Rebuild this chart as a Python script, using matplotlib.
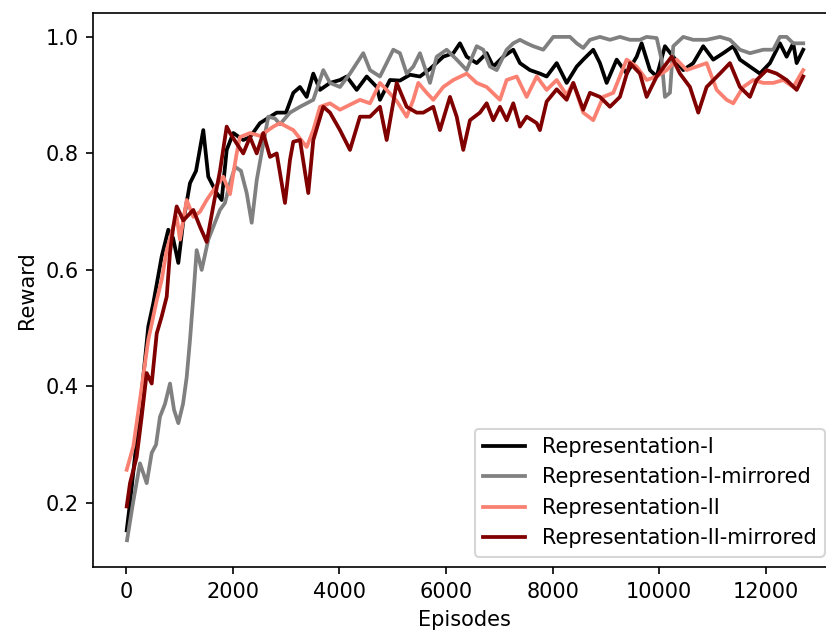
import matplotlib
matplotlib.use("Agg")
import matplotlib.pyplot as plt

# ---- data ----
ep_rep1 = [13, 75, 262, 418, 512, 669, 793, 881, 981, 1069, 1200, 1313, 1449, 1543, 1700, 1794, 1888,
           2012, 2199, 2325, 2512, 2826, 3000, 3137, 3262, 3388, 3512, 3637, 3825, 4012, 4138, 4326,
           4513, 4701, 4762, 4950, 5137, 5325, 5512, 5700, 5949, 6137, 6262, 6388, 6576, 6763, 6887,
           7074, 7262, 7387, 7575, 7762, 7888, 8076, 8263, 8451, 8574, 8762, 8887, 9013, 9201, 9388,
           9576, 9669, 9825, 9951, 10106, 10262, 10449, 10637, 10824, 11012, 11199, 11387, 11512,
           11700, 11887, 12075, 12262, 12388, 12512, 12576, 12699]
rw_rep1 = [0.153, 0.20, 0.36, 0.503, 0.543, 0.623, 0.669, 0.655, 0.612, 0.68, 0.749, 0.77, 0.840, 0.76,
           0.732, 0.72, 0.806, 0.835, 0.823, 0.828, 0.852, 0.87, 0.87, 0.904, 0.914, 0.897, 0.937,
           0.909, 0.921, 0.926, 0.932, 0.909, 0.932, 0.914, 0.892, 0.926, 0.925, 0.935, 0.932, 0.945,
           0.966, 0.972, 0.989, 0.966, 0.955, 0.972, 0.949, 0.966, 0.978, 0.955, 0.943, 0.937, 0.932,
           0.955, 0.921, 0.949, 0.961, 0.978, 0.955, 0.921, 0.961, 0.937, 0.966, 0.989, 0.943, 0.932,
           0.984, 0.966, 0.943, 0.955, 0.984, 0.961, 0.972, 0.984, 0.961, 0.949, 0.937, 0.955, 0.989,
           0.966, 0.989, 0.955, 0.978]

ep_rep1m = [19, 131, 262, 388, 482, 563, 637, 731, 825, 900, 981, 1069, 1138, 1200, 1262, 1325, 1419,
            1543, 1637, 1762, 1856, 1950, 2044, 2156, 2263, 2357, 2451, 2574, 2668, 2794, 2887, 3075,
            3262, 3512, 3699, 3825, 4012, 4200, 4449, 4575, 4762, 5012, 5137, 5263, 5387, 5512, 5700,
            5826, 6013, 6201, 6388, 6576, 6699, 6825, 6951, 7138, 7262, 7387, 7513, 7637, 7824, 8012,
            8325, 8451, 8574, 8700, 8887, 9075, 9262, 9450, 9637, 9763, 9951, 10044, 10106, 10200,
            10262, 10449, 10637, 10888, 11137, 11325, 11512, 11700, 11949, 12137, 12262, 12388, 12512,
            12699]
rw_rep1m = [0.136, 0.20, 0.268, 0.234, 0.286, 0.30, 0.348, 0.37, 0.405, 0.36, 0.337, 0.37, 0.416, 0.48,
            0.554, 0.634, 0.60, 0.652, 0.674, 0.703, 0.715, 0.749, 0.777, 0.77, 0.732, 0.681, 0.754,
            0.817, 0.863, 0.86, 0.85, 0.87, 0.88, 0.892, 0.943, 0.921, 0.914, 0.937, 0.972, 0.943,
            0.932, 0.978, 0.972, 0.937, 0.949, 0.972, 0.921, 0.966, 0.978, 0.961, 0.943, 0.984, 0.978,
            0.949, 0.943, 0.978, 0.989, 0.995, 0.989, 0.984, 0.978, 1.0, 1.0, 0.989, 0.981, 0.995, 1.0,
            0.995, 1.0, 0.995, 0.995, 1.0, 0.998, 0.961, 0.897, 0.904, 0.984, 1.0, 0.995, 0.995, 1.0,
            0.995, 0.978, 0.972, 0.978, 0.978, 1.0, 1.0, 0.989, 0.989]

ep_rep2 = [13, 137, 262, 356, 418, 576, 669, 763, 887, 950, 1012, 1138, 1262, 1388, 1513, 1700, 1824,
           1950, 2075, 2137, 2325, 2512, 2762, 2887, 3137, 3388, 3512, 3637, 3825, 4012, 4387, 4575,
           4762, 4888, 5076, 5263, 5387, 5481, 5638, 5762, 5949, 6137, 6388, 6576, 6763, 7012, 7138,
           7326, 7513, 7701, 7888, 8076, 8263, 8387, 8574, 8762, 8949, 9137, 9388, 9576, 9763, 9951,
           10138, 10326, 10513, 10701, 10888, 11076, 11263, 11387, 11574, 11762, 11949, 12137, 12324,
           12512, 12699]
rw_rep2 = [0.257, 0.297, 0.377, 0.44, 0.48, 0.548, 0.583, 0.634, 0.674, 0.691, 0.652, 0.72, 0.691, 0.70,
           0.72, 0.745, 0.76, 0.73, 0.80, 0.828, 0.835, 0.83, 0.846, 0.852, 0.84, 0.811, 0.84, 0.88,
           0.886, 0.875, 0.892, 0.886, 0.921, 0.909, 0.89, 0.863, 0.892, 0.921, 0.904, 0.892, 0.914,
           0.926, 0.937, 0.921, 0.914, 0.892, 0.926, 0.932, 0.897, 0.932, 0.909, 0.926, 0.90, 0.921,
           0.87, 0.857, 0.897, 0.904, 0.961, 0.949, 0.926, 0.932, 0.943, 0.961, 0.943, 0.949, 0.955,
           0.909, 0.892, 0.886, 0.914, 0.926, 0.921, 0.921, 0.926, 0.914, 0.943]

ep_rep2m = [13, 75, 200, 294, 388, 482, 576, 669, 763, 825, 887, 950, 1074, 1262, 1388, 1513, 1637,
            1762, 1888, 1950, 2075, 2199, 2325, 2451, 2574, 2700, 2826, 2981, 3075, 3137, 3262, 3418,
            3512, 3699, 3825, 4012, 4200, 4387, 4575, 4762, 4888, 5076, 5263, 5451, 5574, 5762, 5887,
            6075, 6201, 6324, 6450, 6637, 6763, 6887, 7012, 7138, 7262, 7387, 7513, 7701, 7762, 7888,
            8076, 8263, 8387, 8574, 8700, 8887, 9075, 9262, 9450, 9637, 9763, 9951, 10232, 10387,
            10575, 10731, 10888, 11137, 11325, 11512, 11700, 11826, 12013, 12201, 12388, 12576, 12699]
rw_rep2m = [0.194, 0.234, 0.279, 0.348, 0.423, 0.405, 0.491, 0.52, 0.554, 0.63, 0.674, 0.709, 0.685,
            0.703, 0.674, 0.648, 0.71, 0.77, 0.846, 0.835, 0.817, 0.80, 0.828, 0.80, 0.835, 0.794,
            0.80, 0.715, 0.789, 0.82, 0.823, 0.732, 0.823, 0.88, 0.87, 0.84, 0.806, 0.863, 0.863, 0.88,
            0.823, 0.921, 0.88, 0.87, 0.87, 0.88, 0.84, 0.897, 0.863, 0.806, 0.857, 0.87, 0.886, 0.857,
            0.88, 0.857, 0.886, 0.846, 0.863, 0.852, 0.84, 0.889, 0.91, 0.892, 0.921, 0.875, 0.904,
            0.897, 0.88, 0.897, 0.955, 0.937, 0.897, 0.932, 0.966, 0.937, 0.914, 0.87, 0.914, 0.937,
            0.955, 0.914, 0.897, 0.926, 0.943, 0.937, 0.926, 0.909, 0.932]

labels = ["Representation-I", "Representation-I-mirrored", "Representation-II", "Representation-II-mirrored"]
colors = ["black", "gray", "salmon", "#800000"]

W, H, DPI = 826, 630, 150
fig = plt.figure(figsize=(W / DPI, H / DPI), dpi=DPI)
# axes extends past the right edge of the figure (as in the reference)
left, right, top, bottom = 93, 835, 13, 567
ax = fig.add_axes([left / W, (H - bottom) / H, (right - left) / W, (bottom - top) / H])

for x, y, lab, c in zip([ep_rep1, ep_rep1m, ep_rep2, ep_rep2m],
                        [rw_rep1, rw_rep1m, rw_rep2, rw_rep2m], labels, colors):
    ax.plot(x, y, color=c, label=lab, linewidth=1.8)

ax.set_xlim(-619, 13295)
ax.set_ylim(0.0901, 1.041)
ax.set_xticks([0, 2000, 4000, 6000, 8000, 10000, 12000])
ax.set_yticks([0.2, 0.4, 0.6, 0.8, 1.0])
ax.set_xlabel("Episodes")
ax.set_ylabel("Reward")
ax.legend(loc="lower right")

fig.savefig("out.png", dpi=DPI)
